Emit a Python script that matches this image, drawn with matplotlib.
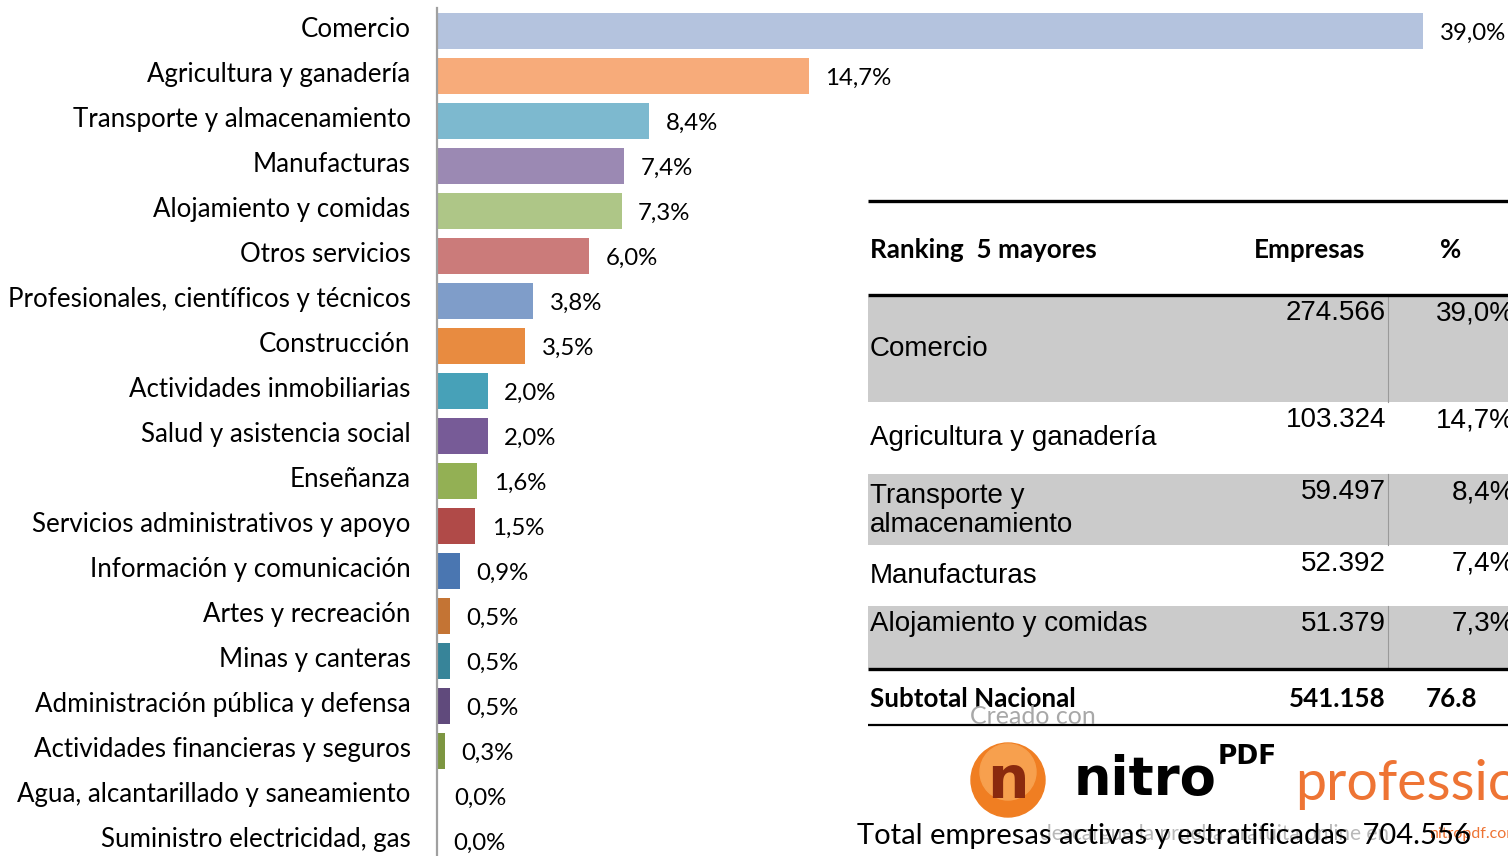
import matplotlib
matplotlib.use("Agg")
import matplotlib.pyplot as plt
import matplotlib.transforms as mtransforms
from matplotlib.patches import Rectangle, Circle

# sector shares of active companies (%)
sectores = ["Comercio", "Agricultura y ganadería", "Transporte y almacenamiento",
            "Manufacturas", "Alojamiento y comidas", "Otros servicios",
            "Profesionales, científicos y técnicos", "Construcción",
            "Actividades inmobiliarias", "Salud y asistencia social", "Enseñanza",
            "Servicios administrativos y apoyo", "Información y comunicación",
            "Artes y recreación", "Minas y canteras",
            "Administración pública y defensa", "Actividades financieras y seguros",
            "Agua, alcantarillado y saneamiento", "Suministro electricidad, gas"]
porcentajes = [39.0, 14.7, 8.4, 7.4, 7.3, 6.0, 3.8, 3.5, 2.0, 2.0, 1.6, 1.5,
               0.9, 0.5, 0.5, 0.5, 0.3, 0.04, 0.0]
colores = ["#B4C3DE", "#F7AB7A", "#7DB9CF", "#9B89B3", "#AEC687", "#CB7B7A",
           "#7F9DC9", "#E88B40", "#47A1B8", "#775B97", "#93B054", "#B04A48",
           "#4A76B1", "#C47434", "#378499", "#604A7C", "#7D9641", "#8B4A4A",
           "#8B4A4A"]

# ranking table
rank_nombres = ["Comercio", "Agricultura y ganadería", "Transporte y\nalmacenamiento",
                "Manufacturas", "Alojamiento y comidas"]
rank_empresas = ["274.566", "103.324", "59.497", "52.392", "51.379"]
rank_pct = ["39,0%", "14,7%", "8,4%", "7,4%", "7,3%"]
subtotal = ("Subtotal Nacional", "541.158", "76.8")
total_txt = "Total empresas activas y estratificadas  704.556"

W, H = 1508, 856
fig = plt.figure(figsize=(W / 100, H / 100), dpi=100)

# ---- bar chart ----
px_per_pct = 25.28
ax = fig.add_axes([437 / W, 0, (W - 437) / W, 848 / H])
ypos = list(range(len(sectores)))
ax.barh(ypos, porcentajes, height=0.8, color=colores)
ax.set_xlim(0, (W - 437) / px_per_pct)
ax.set_ylim(18.333, -0.511)
ax.set_yticks(ypos)
ax.set_yticklabels(sectores, fontsize=18.6, family="Lato")
ax.tick_params(axis="y", length=0, pad=19)
# labels sit a little above the bar centre in the original
shift = mtransforms.ScaledTranslation(0, 4 / 100, fig.dpi_scale_trans)
for lab in ax.get_yticklabels():
    lab.set_transform(lab.get_transform() + shift)
ax.set_xticks([])
for s in ["top", "right", "bottom"]:
    ax.spines[s].set_visible(False)
ax.spines["left"].set_color("#A0A0A0")
ax.spines["left"].set_linewidth(1.6)
for y, v in zip(ypos, porcentajes):
    ax.annotate(f"{v:.1f}%".replace(".", ","), (v, y), xytext=(12, -2),
                textcoords="offset points", va="center", ha="left",
                fontsize=17.3, family="Lato", annotation_clip=False)

# ---- table overlay (pixel coordinates) ----
ov = fig.add_axes([0, 0, 1, 1], zorder=5)
ov.set_xlim(0, W)
ov.set_ylim(H, 0)
ov.axis("off")
ov.patch.set_alpha(0)

gris = "#CBCBCB"
filas = [(297, 402), (402, 474), (474, 545), (545, 606), (606, 668)]
for i, (y0, y1) in enumerate(filas):
    if i % 2 == 0:
        ov.add_patch(Rectangle((868, y0), W - 868, y1 - y0, color=gris, lw=0))
        ov.plot([1388, 1388], [y0, y1], color="#9A9A9A", lw=0.8)

for yl, lw in [(201, 2.4), (295, 2.4), (669, 2.4), (725, 1.6)]:
    ov.plot([868, W], [yl, yl], color="black", lw=lw, solid_capstyle="butt")

ov.text(870, 250, "Ranking  5 mayores", fontsize=18.7, family="Lato",
        weight="bold", va="center")
ov.text(1310, 250, "Empresas", fontsize=18.7, family="Lato", weight="bold",
        va="center", ha="center")
ov.text(1451, 250, "%", fontsize=18.7, family="Lato", weight="bold",
        va="center", ha="center")

nombre_y = [349, 438, 510, 576, 624]
num_y = [313, 420, 492, 564, 624]
for n, e, p, yn, yv in zip(rank_nombres, rank_empresas, rank_pct, nombre_y, num_y):
    ov.text(870, yn, n, fontsize=20, family="Liberation Sans", va="center",
            linespacing=1.15)
    ov.text(1386, yv, e, fontsize=20, family="Liberation Sans", va="center",
            ha="right")
    ov.text(1515, yv, p, fontsize=20, family="Liberation Sans", va="center",
            ha="right")

ov.text(870, 699, subtotal[0], fontsize=18.7, family="Lato", weight="bold",
        va="center")
ov.text(1386, 699, subtotal[1], fontsize=18.7, family="Lato", weight="bold",
        va="center", ha="right")
ov.text(1477, 699, subtotal[2], fontsize=18.7, family="Lato", weight="bold",
        va="center", ha="right")

# watermark
ov.text(970, 717, "Creado con", fontsize=18, family="Lato", color="#A8A8A8",
        va="center")
ov.add_patch(Circle((1008, 780), 37, color="#F07E22", zorder=6))
ov.add_patch(Circle((1008, 772), 28, color="#F7A04E", zorder=6))
ov.text(1008, 782, "n", fontsize=42, family="DejaVu Sans", weight="bold",
        color="#8A2A0E", ha="center", va="center", zorder=7)
ov.text(1074, 780, "nitro", fontsize=38, family="DejaVu Sans", weight="bold",
        color="black", va="center")
ov.text(1218, 757, "PDF", fontsize=19, family="DejaVu Sans", weight="bold",
        color="black", va="center")
ov.text(1295, 784, "professional", fontsize=40, family="Lato",
        color="#EE7434", va="center")
ov.text(1040, 834, "descargue la prueba gratuita online en", fontsize=15,
        family="Lato", color="#B8B8B8", va="center")
ov.text(1430, 834, "nitropdf.com", fontsize=11.5, family="Lato",
        color="#EE7434", va="center")

ov.text(857, 836, total_txt, fontsize=21, family="Lato", va="center", zorder=8)

fig.savefig("out.png", dpi=100)
